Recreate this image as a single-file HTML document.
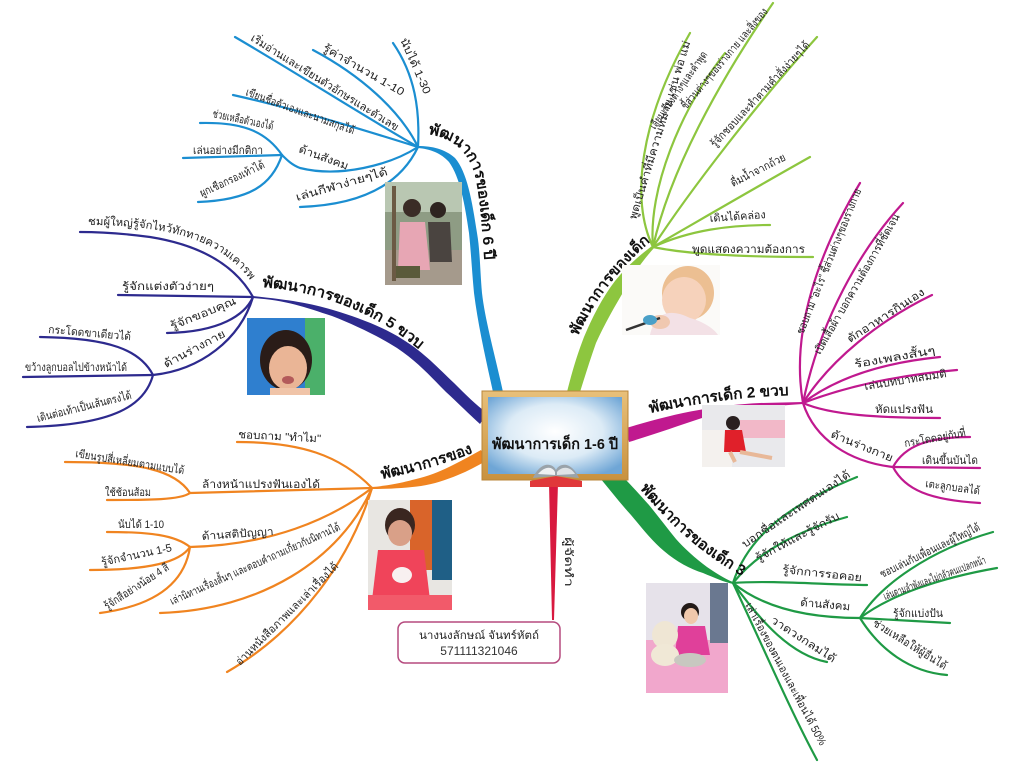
<!DOCTYPE html>
<html><head><meta charset="utf-8">
<style>
html,body{margin:0;padding:0;background:#fff;}
svg{display:block;}
text{font-family:"Liberation Sans","DejaVu Sans",sans-serif;fill:#222;}
.s{font-size:11px;}
.b{font-size:15px;font-weight:bold;fill:#111;}
</style></head>
<body>
<svg width="1024" height="768" viewBox="0 0 1024 768" xmlns="http://www.w3.org/2000/svg">
<defs>
<radialGradient id="bg" cx="50%" cy="45%" r="65%">
<stop offset="0" stop-color="#ffffff"/><stop offset="0.55" stop-color="#dcebf6"/><stop offset="1" stop-color="#6fa6d6"/>
</radialGradient>
<linearGradient id="fr" x1="0" y1="0" x2="0" y2="1">
<stop offset="0" stop-color="#e8c07a"/><stop offset="1" stop-color="#c8913e"/>
</linearGradient>
<path id="p6" d="M428,134 C452,138 468,150 475,175 C481,200 483,240 486,285"/>
<path id="p5" d="M262,287 C300,290 330,298 360,312 C385,323 405,337 428,357"/>
<path id="p4" d="M382,479 C410,473 440,466 480,450"/>
<path id="p2" d="M650,413 C700,402 750,396 797,395"/>
<path id="p3" d="M640,489 C662,514 688,545 740,575"/>
<path id="p1" d="M578,336 C592,305 615,272 650,242"/>
<path id="pc1" d="M88,225 C140,225 190,232 220,252 C235,262 245,272 252,283"/>
</defs>

<!-- ============ BLUE (6 ปี) ============ -->
<g stroke="#1b8ed1" fill="none" stroke-width="2.2" stroke-linecap="round">
<path d="M418,147 C420,110 415,75 393,43"/>
<path d="M418,147 C400,110 360,75 313,50"/>
<path d="M418,147 C370,120 300,75 235,37"/>
<path d="M418,147 C370,132 300,110 233,95"/>
<path d="M418,147 C390,165 340,178 300,168 C292,165 287,160 282,155"/>
<path d="M282,155 C265,130 240,122 200,123"/>
<path d="M282,155 L183,158"/>
<path d="M282,155 C272,185 250,200 198,202"/>
<path d="M418,147 C400,185 360,205 300,207"/>
</g>
<path fill="#1b8ed1" d="M503,392 C495,355 485,320 482,293 C480,270 480,250 477,233 C472,200 467,172 455,158 C445,149 432,146 418,146 L418,148 C430,149 441,153 449,162 C460,177 465,205 469,233 C471,252 472,272 474,293 C478,325 486,360 493,392 Z"/>
<text class="b"><textPath href="#p6" textLength="152" lengthAdjust="spacingAndGlyphs">พัฒนาการของเด็ก 6 ปี</textPath></text>
<text class="s" transform="translate(400,40) rotate(66)" textLength="60" lengthAdjust="spacingAndGlyphs">นับได้ 1-30</text>
<text class="s" transform="translate(322,50) rotate(30)" textLength="92" lengthAdjust="spacingAndGlyphs">รู้ค่าจำนวน 1-10</text>
<text class="s" transform="translate(250,40) rotate(32)" textLength="172" lengthAdjust="spacingAndGlyphs">เริ่มอ่านและเขียนตัวอักษรและตัวเลข</text>
<text class="s" transform="translate(245,95) rotate(20)" textLength="115" lengthAdjust="spacingAndGlyphs">เขียนชื่อตัวเองและนามสกุลได้</text>
<text class="s" transform="translate(298,152) rotate(20)" textLength="52" lengthAdjust="spacingAndGlyphs">ด้านสังคม</text>
<text class="s" transform="translate(212,117) rotate(12)" textLength="62" lengthAdjust="spacingAndGlyphs">ช่วยเหลือตัวเองได้</text>
<text class="s" transform="translate(193,154)" textLength="70" lengthAdjust="spacingAndGlyphs">เล่นอย่างมีกติกา</text>
<text class="s" transform="translate(202,197) rotate(-25)" textLength="70" lengthAdjust="spacingAndGlyphs">ผูกเชือกรองเท้าได้</text>
<text class="s" transform="translate(297,201) rotate(-16)" textLength="95" lengthAdjust="spacingAndGlyphs">เล่นกีฬาง่ายๆได้</text>
<!-- photo 6 -->
<g>
<rect x="385" y="182" width="77" height="103" fill="#8e9c84"/>
<rect x="385" y="182" width="77" height="30" fill="#b9c7b2"/>
<rect x="385" y="250" width="77" height="35" fill="#a59a8c"/>
<rect x="392" y="186" width="4" height="95" fill="#6b5a44"/>
<circle cx="412" cy="208" r="9" fill="#3a2c26"/>
<path d="M400,222 L425,222 L430,270 L398,270 Z" fill="#e7a6b4"/>
<circle cx="438" cy="210" r="8" fill="#2e2420"/>
<path d="M428,222 L450,222 L452,262 L430,262 Z" fill="#4a4440"/>
<rect x="396" y="266" width="24" height="12" fill="#5a5a3a"/>
</g>

<!-- ============ PURPLE (5 ขวบ) ============ -->
<g stroke="#2d2a8e" fill="none" stroke-width="2.2" stroke-linecap="round">
<path d="M253,297 C235,265 200,245 150,237 C120,233 100,232 80,232"/>
<path d="M253,297 L118,295"/>
<path d="M253,297 C245,315 220,332 167,333"/>
<path d="M253,297 C240,340 200,370 153,375"/>
<path d="M153,375 C140,350 110,338 40,337"/>
<path d="M153,375 L23,377"/>
<path d="M153,375 C145,405 115,425 27,427"/>
</g>
<path fill="#2d2a8e" d="M253,296 C290,300 310,303 333,310 C360,318 385,328 402,339 C425,353 440,370 454,383 C466,395 476,405 487,413 L480,424 C470,415 458,403 446,392 C432,378 418,362 397,348 C380,337 355,325 332,316 C305,307 285,300 253,298 Z"/>
<text class="b"><textPath href="#p5" textLength="172" lengthAdjust="spacingAndGlyphs">พัฒนาการของเด็ก 5 ขวบ</textPath></text>
<text class="s"><textPath href="#pc1" textLength="178" lengthAdjust="spacingAndGlyphs">ชมผู้ใหญ่รู้จักไหว้ทักทายความเคารพ</textPath></text>
<text class="s" transform="translate(122,290)" textLength="92" lengthAdjust="spacingAndGlyphs">รู้จักแต่งตัวง่ายๆ</text>
<text class="s" transform="translate(172,330) rotate(-22)" textLength="70" lengthAdjust="spacingAndGlyphs">รู้จักขอบคุณ</text>
<text class="s" transform="translate(166,368) rotate(-28)" textLength="68" lengthAdjust="spacingAndGlyphs">ด้านร่างกาย</text>
<text class="s" transform="translate(48,333) rotate(5)" textLength="83" lengthAdjust="spacingAndGlyphs">กระโดดขาเดียวได้</text>
<text class="s" transform="translate(25,371)" textLength="102" lengthAdjust="spacingAndGlyphs">ขว้างลูกบอลไปข้างหน้าได้</text>
<text class="s" transform="translate(38,422) rotate(-14)" textLength="97" lengthAdjust="spacingAndGlyphs">เดินต่อเท้าเป็นเส้นตรงได้</text>
<!-- photo 5 -->
<g>
<rect x="247" y="318" width="78" height="77" fill="#2f7fcf"/>
<rect x="305" y="318" width="20" height="77" fill="#4bb06a"/>
<ellipse cx="286" cy="360" rx="26" ry="30" fill="#2a1c18"/>
<ellipse cx="288" cy="368" rx="19" ry="22" fill="#eab596"/>
<path d="M268,350 C275,335 300,333 306,352 L306,345 C300,330 272,330 266,348 Z" fill="#2a1c18"/>
<ellipse cx="288" cy="380" rx="6" ry="4" fill="#b35a5a"/>
<rect x="270" y="388" width="40" height="7" fill="#f0c4a8"/>
</g>

<!-- ============ ORANGE ============ -->
<g stroke="#f08420" fill="none" stroke-width="2.2" stroke-linecap="round">
<path d="M372,488 C340,455 300,442 237,442"/>
<path d="M372,488 C300,490 240,492 190,493"/>
<path d="M190,493 C175,470 140,462 65,462"/>
<path d="M190,493 C180,500 150,500 107,500"/>
<path d="M372,488 C330,520 270,545 190,547"/>
<path d="M190,547 C175,535 150,532 107,532"/>
<path d="M190,547 C180,562 150,570 90,570"/>
<path d="M190,547 C185,580 160,605 100,613"/>
<path d="M372,488 C340,560 260,610 160,613"/>
<path d="M372,488 C350,560 300,630 227,672" stroke-dasharray="none"/>
</g>
<path fill="#f08420" d="M372,487 C395,485 408,481 420,478 C432,475 443,470 453,465 C463,460 472,455 481,450 L486,461 C477,466 468,471 458,475 C446,480 434,484 421,486 C405,488 390,489 372,489 Z"/>
<text class="b"><textPath href="#p4" textLength="95" lengthAdjust="spacingAndGlyphs">พัฒนาการของ</textPath></text>
<text class="s" transform="translate(238,438) rotate(3)" textLength="83" lengthAdjust="spacingAndGlyphs">ชอบถาม "ทำไม"</text>
<text class="s" transform="translate(202,488)" textLength="118" lengthAdjust="spacingAndGlyphs">ล้างหน้าแปรงฟันเองได้</text>
<text class="s" transform="translate(75,457) rotate(9)" textLength="110" lengthAdjust="spacingAndGlyphs">เขียนรูปสี่เหลี่ยมตามแบบได้</text>
<text class="s" transform="translate(105,496)" textLength="46" lengthAdjust="spacingAndGlyphs">ใช้ช้อนส้อม</text>
<text class="s" transform="translate(202,540) rotate(-4)" textLength="72" lengthAdjust="spacingAndGlyphs">ด้านสติปัญญา</text>
<text class="s" transform="translate(118,528)" textLength="46" lengthAdjust="spacingAndGlyphs">นับได้ 1-10</text>
<text class="s" transform="translate(102,566) rotate(-12)" textLength="72" lengthAdjust="spacingAndGlyphs">รู้จักจำนวน 1-5</text>
<text class="s" transform="translate(107,610) rotate(-33)" textLength="75" lengthAdjust="spacingAndGlyphs">รู้จักสีอย่างน้อย 4 สี</text>
<text class="s" transform="translate(172,605) rotate(-24)" textLength="185" lengthAdjust="spacingAndGlyphs">เล่านิทานเรื่องสั้นๆ และตอบคำถามเกี่ยวกับนิทานได้</text>
<text class="s" transform="translate(240,666) rotate(-45)" textLength="140" lengthAdjust="spacingAndGlyphs">อ่านหนังสือภาพและเล่าเรื่องได้</text>
<!-- photo 4 -->
<g>
<rect x="368" y="500" width="84" height="110" fill="#e8e6e2"/>
<rect x="410" y="500" width="22" height="70" fill="#d9642a"/>
<rect x="432" y="500" width="20" height="80" fill="#1f5f86"/>
<ellipse cx="400" cy="525" rx="15" ry="17" fill="#3a2620"/>
<ellipse cx="400" cy="533" rx="12" ry="13" fill="#d9a088"/>
<path d="M378,550 L424,550 L430,600 L372,600 Z" fill="#f0445a"/>
<ellipse cx="402" cy="575" rx="10" ry="8" fill="#f8f0f0"/>
<rect x="368" y="595" width="84" height="15" fill="#f25a6a"/>
</g>

<!-- ============ RED / AUTHOR ============ -->
<path fill="#d8193f" d="M549,483 L558,483 L554,620 L552,620 Z"/>
<text class="s" transform="translate(565,537) rotate(90)" textLength="50" lengthAdjust="spacingAndGlyphs">ผู้จัดทำ</text>
<rect x="398" y="622" width="162" height="41" rx="7" fill="#fff" stroke="#b54a7e" stroke-width="1.5"/>
<text class="s" x="479" y="639" text-anchor="middle" textLength="120" lengthAdjust="spacingAndGlyphs">นางนงลักษณ์ จันทร์หัตถ์</text>
<text x="479" y="655" text-anchor="middle" style="font-size:12px;fill:#333">571111321046</text>

<!-- ============ LIGHT GREEN (1 ปี) ============ -->
<g stroke="#8dc63f" fill="none" stroke-width="2.2" stroke-linecap="round">
<path d="M653,247 C630,200 640,120 690,33"/>
<path d="M653,247 C648,190 680,110 725,53"/>
<path d="M653,247 C670,170 720,80 773,3"/>
<path d="M653,247 C690,190 760,100 817,37"/>
<path d="M653,247 C700,220 760,185 810,157"/>
<path d="M653,247 C690,230 730,225 770,225"/>
<path d="M653,247 C690,255 750,257 813,257"/>
</g>
<path fill="#8dc63f" d="M567,392 C572,372 577,355 584,337 C592,318 602,298 615,281 C627,266 640,255 652,246 L654,248 C645,258 634,272 625,289 C615,306 604,325 596,343 C590,360 585,376 580,392 Z"/>
<text class="b"><textPath href="#p1" textLength="120" lengthAdjust="spacingAndGlyphs">พัฒนาการของเด็ก</textPath></text>
<text class="s" transform="translate(636,220) rotate(-73)" textLength="186" lengthAdjust="spacingAndGlyphs">พูดเป็นคำที่มีความหมาย เช่น พ่อ แม่</text>
<text class="s" transform="translate(655,130) rotate(-55)" textLength="92" lengthAdjust="spacingAndGlyphs">เลียนเสียงต่างๆและคำพูด</text>
<text class="s" transform="translate(686,110) rotate(-50)" textLength="128" lengthAdjust="spacingAndGlyphs">ชี้ส่วนต่างๆของร่างกาย และสิ่งของ</text>
<text class="s" transform="translate(715,148) rotate(-47)" textLength="140" lengthAdjust="spacingAndGlyphs">รู้จักชอบและทำตามคำสั่งง่ายๆได้</text>
<text class="s" transform="translate(733,187) rotate(-27)" textLength="60" lengthAdjust="spacingAndGlyphs">ดื่มน้ำจากถ้วย</text>
<text class="s" transform="translate(710,222) rotate(-4)" textLength="56" lengthAdjust="spacingAndGlyphs">เดินได้คล่อง</text>
<text class="s" transform="translate(692,253)" textLength="113" lengthAdjust="spacingAndGlyphs">พูดแสดงความต้องการ</text>
<!-- baby photo -->
<g>
<rect x="622" y="265" width="98" height="70" fill="#fbfaf8"/>
<ellipse cx="688" cy="293" rx="26" ry="27" fill="#ecbf92"/>
<ellipse cx="684" cy="300" rx="22" ry="23" fill="#f6d2bb"/>
<path d="M650,335 C655,312 670,308 690,318 C705,322 715,330 718,335 Z" fill="#f3e1e6"/>
<ellipse cx="660" cy="322" rx="10" ry="7" fill="#f0c8b0"/>
<path d="M626,330 L660,318" stroke="#333" stroke-width="2.5"/>
<ellipse cx="650" cy="320" rx="7" ry="5" fill="#4aa0c8"/>
</g>

<!-- ============ MAGENTA (2 ขวบ) ============ -->
<g stroke="#c0198f" fill="none" stroke-width="2.2" stroke-linecap="round">
<path d="M803,403 C790,330 820,250 860,183"/>
<path d="M803,403 C820,320 860,250 903,203"/>
<path d="M803,403 C830,360 880,320 932,295"/>
<path d="M803,403 C840,375 890,362 940,357"/>
<path d="M803,403 C850,385 900,375 957,370"/>
<path d="M803,403 C830,415 880,418 940,418"/>
<path d="M803,403 C815,440 850,462 893,467"/>
<path d="M893,467 C905,445 930,437 970,437"/>
<path d="M893,467 L980,468"/>
<path d="M893,467 C905,490 930,500 980,503"/>
</g>
<path fill="#c0198f" d="M626,428 C650,421 675,414 699,410 C720,406 740,404 760,403 L803,402 L803,404 L760,407 C740,409 720,412 702,418 C678,426 655,434 629,442 Z"/>
<text class="b"><textPath href="#p2" textLength="140" lengthAdjust="spacingAndGlyphs">พัฒนาการเด็ก 2 ขวบ</textPath></text>
<text class="s" transform="translate(803,335) rotate(-68)" textLength="156" lengthAdjust="spacingAndGlyphs">ชอบถาม "อะไร" ชี้ส่วนต่างๆของร่างกาย</text>
<text class="s" transform="translate(820,355) rotate(-60)" textLength="160" lengthAdjust="spacingAndGlyphs">เปิดเสื้อผ้า บอกความต้องการที่ชัดเจน</text>
<text class="s" transform="translate(850,343) rotate(-33)" textLength="90" lengthAdjust="spacingAndGlyphs">ตักอาหารกินเอง</text>
<text class="s" transform="translate(855,368) rotate(-10)" textLength="82" lengthAdjust="spacingAndGlyphs">ร้องเพลงสั้นๆ</text>
<text class="s" transform="translate(865,390) rotate(-9)" textLength="83" lengthAdjust="spacingAndGlyphs">เล่นบทบาทสมมติ</text>
<text class="s" transform="translate(875,413)" textLength="58" lengthAdjust="spacingAndGlyphs">หัดแปรงฟัน</text>
<text class="s" transform="translate(830,437) rotate(22)" textLength="66" lengthAdjust="spacingAndGlyphs">ด้านร่างกาย</text>
<text class="s" transform="translate(905,447) rotate(-10)" textLength="62" lengthAdjust="spacingAndGlyphs">กระโดดอยู่กับที่</text>
<text class="s" transform="translate(922,464)" textLength="56" lengthAdjust="spacingAndGlyphs">เดินขึ้นบันได</text>
<text class="s" transform="translate(925,487) rotate(8)" textLength="55" lengthAdjust="spacingAndGlyphs">เตะลูกบอลได้</text>
<!-- photo 2 -->
<g>
<rect x="702" y="405" width="83" height="62" fill="#e9e9ec"/>
<rect x="740" y="420" width="45" height="18" fill="#f2b8c8"/>
<rect x="702" y="430" width="30" height="37" fill="#f4f1ee"/>
<circle cx="733" cy="423" r="7" fill="#2a2020"/>
<path d="M725,430 L742,430 L746,452 L724,452 Z" fill="#e0202a"/>
<path d="M740,452 L772,458" stroke="#e8b898" stroke-width="4"/>
<path d="M730,452 L735,462" stroke="#e8b898" stroke-width="4"/>
</g>

<!-- ============ GREEN (3 ขวบ) ============ -->
<g stroke="#1f9a45" fill="none" stroke-width="2.2" stroke-linecap="round">
<path d="M733,583 C750,530 800,500 857,477"/>
<path d="M733,583 C760,550 800,530 847,517"/>
<path d="M733,583 C770,580 830,585 867,585"/>
<path d="M733,583 C760,605 800,618 860,618"/>
<path d="M860,618 C880,585 930,550 993,532"/>
<path d="M860,618 C890,595 940,578 997,568"/>
<path d="M860,618 L950,623"/>
<path d="M860,618 C880,650 910,672 947,675"/>
<path d="M733,583 C760,620 790,655 827,662"/>
<path d="M733,583 C760,640 790,710 817,760"/>
</g>
<path fill="#1f9a45" d="M600,478 C610,490 620,503 631,515 C642,528 652,541 664,551 C677,562 690,569 703,573 C715,578 724,582 733,584 L733,582 C725,579 716,573 707,567 C695,558 685,549 676,539 C667,528 658,516 649,505 C640,495 632,486 624,478 Z"/>
<text class="b"><textPath href="#p3" textLength="135" lengthAdjust="spacingAndGlyphs">พัฒนาการของเด็ก 3</textPath></text>
<text class="s" transform="translate(745,548) rotate(-34)" textLength="128" lengthAdjust="spacingAndGlyphs">บอกชื่อและเพศตนเองได้</text>
<text class="s" transform="translate(758,562) rotate(-28)" textLength="93" lengthAdjust="spacingAndGlyphs">รู้จักให้และรู้จักรับ</text>
<text class="s" transform="translate(782,573) rotate(6)" textLength="80" lengthAdjust="spacingAndGlyphs">รู้จักการรอคอย</text>
<text class="s" transform="translate(800,606) rotate(5)" textLength="50" lengthAdjust="spacingAndGlyphs">ด้านสังคม</text>
<text class="s" transform="translate(882,578) rotate(-26)" textLength="110" lengthAdjust="spacingAndGlyphs">ชอบเล่นกับเพื่อนและผู้ใหญ่ได้</text>
<text class="s" transform="translate(885,600) rotate(-20)" textLength="108" lengthAdjust="spacingAndGlyphs">เล่นตามลำพังและไม่กลัวคนแปลกหน้า</text>
<text class="s" transform="translate(893,617)" textLength="50" lengthAdjust="spacingAndGlyphs">รู้จักแบ่งปัน</text>
<text class="s" transform="translate(872,625) rotate(32)" textLength="85" lengthAdjust="spacingAndGlyphs">ช่วยเหลือให้ผู้อื่นได้</text>
<text class="s" transform="translate(770,622) rotate(33)" textLength="75" lengthAdjust="spacingAndGlyphs">วาดวงกลมได้</text>
<text class="s" transform="translate(745,605) rotate(62)" textLength="160" lengthAdjust="spacingAndGlyphs">เล่าเรื่องของตนเองและเพื่อนได้ 50%</text>
<!-- photo 3 -->
<g>
<rect x="646" y="583" width="82" height="110" fill="#e6e2ea"/>
<rect x="646" y="640" width="82" height="53" fill="#f1a7cc"/>
<rect x="710" y="583" width="18" height="60" fill="#6a7890"/>
<circle cx="690" cy="612" r="9" fill="#231a18"/>
<ellipse cx="691" cy="616" rx="7" ry="8" fill="#f0c8ac"/>
<path d="M678,626 L705,626 L710,655 L675,655 Z" fill="#e0409a"/>
<ellipse cx="665" cy="635" rx="13" ry="14" fill="#efe6d4"/>
<ellipse cx="665" cy="655" rx="14" ry="11" fill="#f0e8d6"/>
<ellipse cx="690" cy="660" rx="16" ry="7" fill="#c8c8c0"/>
</g>

<!-- ============ CENTER ============ -->
<rect x="482" y="391" width="146" height="89" fill="url(#fr)" stroke="#b98538" stroke-width="1"/>
<rect x="488" y="397" width="134" height="77" fill="url(#bg)"/>
<text class="b" x="555" y="449" text-anchor="middle" textLength="126" lengthAdjust="spacingAndGlyphs">พัฒนาการเด็ก 1-6 ปี</text>
<!-- book -->
<path d="M530,481 L556,476 L582,481 L582,487 L530,487 Z" fill="#e0383a"/>
<path d="M533,478 C540,462 552,462 556,470 C560,462 572,462 579,478 L556,476 Z" fill="#9aa3aa"/>
<path d="M538,474 C545,466 552,466 555,472 L555,475 Z" fill="#eef0f2"/>
<path d="M557,472 C562,466 570,466 575,474 L557,475 Z" fill="#dfe3e6"/>
</svg>
</body></html>
